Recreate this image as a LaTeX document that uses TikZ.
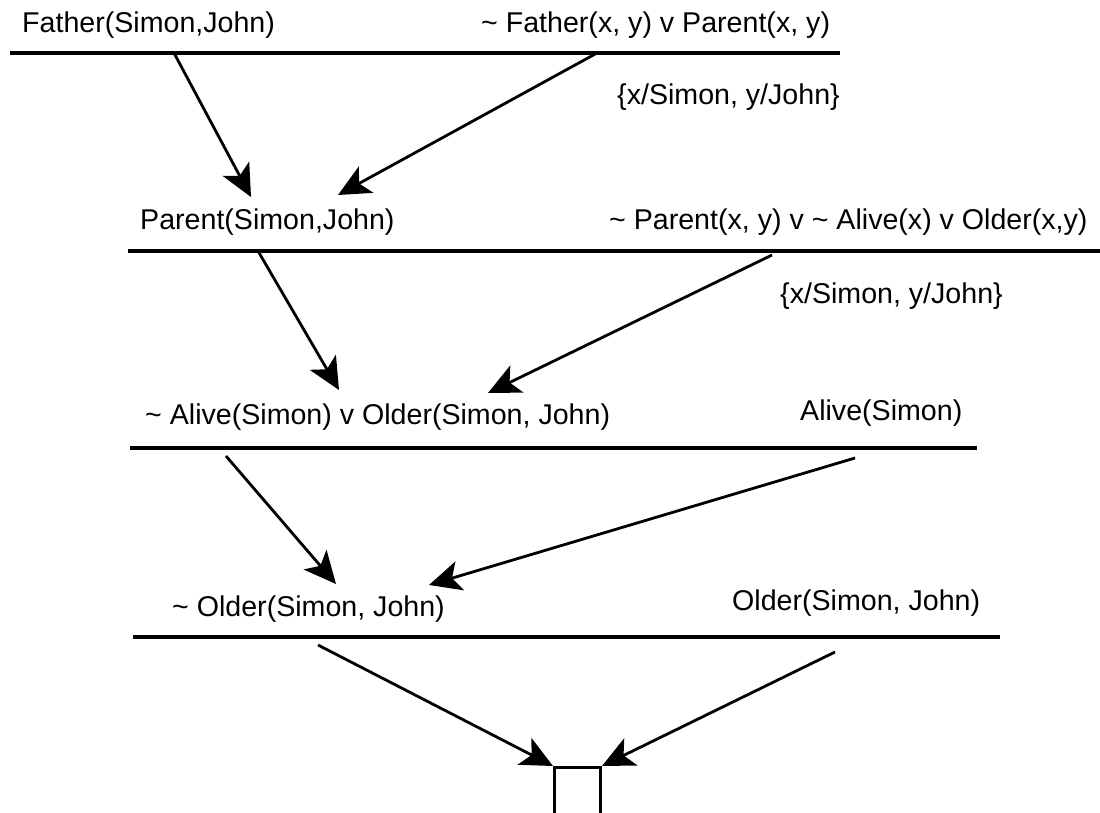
\documentclass[tikz,border=0pt]{standalone}
\usepackage{fontspec}
\setmainfont{Liberation Sans}
\usetikzlibrary{arrows.meta}
\begin{document}
\begin{tikzpicture}[x=1pt,y=-1pt,
  clause/.style={anchor=base west, inner sep=0pt, font=\fontsize{28.6}{34}\selectfont},
  rulebar/.style={line width=4pt},
  infer/.style={line width=2.8pt, -{Stealth[length=32pt,width=30pt,inset=8pt]}},
  emptybox/.style={draw, line width=3pt, minimum width=46pt, minimum height=50pt, inner sep=0pt, anchor=north west}
]
\useasboundingbox[fill=white] (0,0) rectangle (1100,812);

% step 1
\node[clause] (f1) at (22,32) {Father(Simon,John)};
\node[clause] (r1) at (481,32) {\textasciitilde{} Father(x, y) v Parent(x, y)};
\coordinate (b1l) at (10,53);
\coordinate (b1r) at (840,53);
\draw[rulebar] (b1l) -- (b1r);
\node[clause] (s1) at (617,104) {\{x/Simon, y/John\}};

% step 2
\node[clause] (f2) at (140,229) {Parent(Simon,John)};
\node[clause] (r2) at (609,229) {\textasciitilde{} Parent(x, y) v \textasciitilde{} Alive(x) v Older(x,y)};
\coordinate (b2l) at (128,251);
\coordinate (b2r) at (1100,251);
\draw[rulebar] (b2l) -- (b2r);
\node[clause] (s2) at (780,303) {\{x/Simon, y/John\}};

% step 3
\node[clause] (f3) at (145,424) {\textasciitilde{} Alive(Simon) v Older(Simon, John)};
\node[clause] (r3) at (800,420) {Alive(Simon)};
\coordinate (b3l) at (130,448);
\coordinate (b3r) at (977,448);
\draw[rulebar] (b3l) -- (b3r);

% step 4
\node[clause] (f4) at (172,616) {\textasciitilde{} Older(Simon, John)};
\node[clause] (r4) at (732,610) {Older(Simon, John)};
\coordinate (b4l) at (133,637);
\coordinate (b4r) at (1000,637);
\draw[rulebar] (b4l) -- (b4r);

% empty clause
\node[emptybox] (nil) at (553,766) {};

% resolution arrows
\coordinate (a1) at (174,53);
\coordinate (a2) at (597,53);
\coordinate (t1) at (251,197);
\coordinate (t2) at (338,195);
\draw[infer] (a1) -- (t1);
\draw[infer] (a2) -- (t2);

\coordinate (a3) at (258,251);
\coordinate (a4) at (772,255);
\coordinate (t3) at (339,390);
\coordinate (t4) at (488,393);
\draw[infer] (a3) -- (t3);
\draw[infer] (a4) -- (t4);

\coordinate (a5) at (226,456);
\coordinate (a6) at (855,458);
\coordinate (t5) at (336,584);
\coordinate (t6) at (429,585);
\draw[infer] (a5) -- (t5);
\draw[infer] (a6) -- (t6);

\coordinate (a7) at (318,645);
\coordinate (a8) at (835,652);
\draw[infer] (a7) -- (nil.north west);
\draw[infer] (a8) -- (nil.north east);
\end{tikzpicture}
\end{document}
